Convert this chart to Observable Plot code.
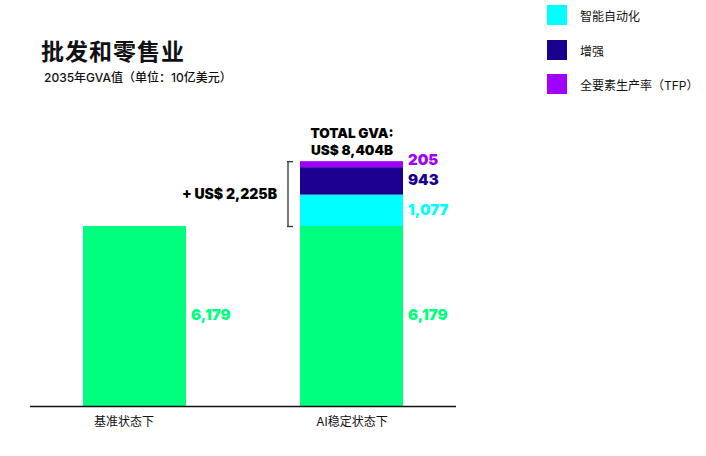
<!DOCTYPE html>
<html>
<head>
<meta charset="utf-8">
<script src="https://cdn.jsdelivr.net/npm/d3@7"></script>
<script src="https://cdn.jsdelivr.net/npm/@observablehq/plot@0.6"></script>
<style>
  html, body { margin: 0; padding: 0; background: #fff; }
  #wrap { position: relative; width: 706px; height: 456px; overflow: hidden;
          font-family: Inter, "Noto Sans CJK SC", sans-serif; color: #111; }
  #chart { position: absolute; left: 0; top: 0; }
  .title { position: absolute; left: 41px; top: 33px; font-size: 23px; font-weight: 700; letter-spacing: 1px; }
  .subtitle { position: absolute; left: 44px; top: 68px; font-size: 12px; font-weight: 500; }
  .legend { position: absolute; left: 547px; top: 0; }
  .legend .item { position: absolute; left: 0; width: 170px; height: 20px; }
  .legend .sw { position: absolute; left: 0; top: 0; width: 20px; height: 20px; }
  .legend .lb { position: absolute; left: 33px; top: 2px; font-size: 12px; white-space: nowrap; }
</style>
</head>
<body>
<div id="wrap">
  <div id="chart"></div>
  <div class="title">批发和零售业</div>
  <div class="subtitle">2035年GVA值（单位：10亿美元）</div>
  <div class="legend" id="legend"></div>
</div>
<script>
// ---- data ----
const scenarios = ["基准状态下", "AI稳定状态下"];
const components = ["基准", "智能自动化", "增强", "全要素生产率（TFP）"];
const baselineValues = [6179, 6179];          // per scenario
const intelligentAutomation = [0, 1077];
const augmentation = [0, 943];
const tfp = [0, 205];
const legendItems = ["智能自动化", "增强", "全要素生产率（TFP）"];

// ---- styles ----
const colors = ["#00ff7f", "#00ffff", "#1b0090", "#a100ff"];

const series = [baselineValues, intelligentAutomation, augmentation, tfp];
const rows = [];
scenarios.forEach((s, i) => {
  components.forEach((c, j) => {
    if (series[j][i] > 0) rows.push({scenario: s, component: c, value: series[j][i]});
  });
});
const aiScenario = scenarios[1];
const aiRows = rows.filter(d => d.scenario === aiScenario);
const total = d3.sum(aiRows, d => d.value);
const base = aiRows[0].value;
const increment = total - base;
const fmt = d3.format(",");
const topComp = components[components.length - 1];

const H = 456, W = 706;
const mb = 50;
const pxPerUnit = 180 / 6179;
const yMax = 10000;
const mt = (H - mb) - yMax * pxPerUnit;

const heavy = "Inter, 'Noto Sans CJK SC', sans-serif";
const labelOpts = (dy) => ({
  x: "scenario", y: "value", z: "component",
  text: d => fmt(d.value), fill: "component",
  textAnchor: "start", dx: 56, dy,
  fontSize: 15, fontWeight: 900, fontFamily: heavy
});

const plot = Plot.plot({
  width: W,
  height: H,
  marginLeft: 30,
  marginRight: 250,
  marginTop: mt,
  marginBottom: mb,
  style: {fontFamily: "Inter, 'Noto Sans CJK SC', sans-serif", background: "transparent"},
  x: {domain: scenarios, paddingInner: 0.525, paddingOuter: 0.244, label: null},
  y: {domain: [0, yMax], axis: null},
  color: {domain: components, range: colors},
  marks: [
    Plot.barY(rows, {x: "scenario", y: "value", fill: "component", z: "component"}),
    Plot.text(rows, Plot.filter(d => d.component !== topComp, Plot.stackY(labelOpts(-1)))),
    Plot.text(rows, Plot.filter(d => d.component === topComp, Plot.stackY(labelOpts(-4)))),
    Plot.text([total], {
      x: () => aiScenario, y: d => d,
      text: d => `TOTAL GVA:\nUS$ ${fmt(d)}B`,
      lineAnchor: "bottom", dy: -7, lineHeight: 1.25,
      fontSize: 13.5, fontWeight: 900, fill: "#000", fontFamily: heavy
    }),
    Plot.ruleX([aiScenario], {x: d => d, y1: base, y2: total, dx: -64, stroke: "#333", strokeWidth: 1.3}),
    Plot.tickY([base, total], {x: () => aiScenario, y: d => d, dx: -13, insetRight: 97, stroke: "#333", strokeWidth: 1.3}),
    Plot.text([increment], {
      x: () => aiScenario, y: d => base + d / 2,
      text: d => `+ US$ ${fmt(d)}B`,
      textAnchor: "end", dx: -75,
      fontSize: 14, fontWeight: 900, fill: "#000", fontFamily: heavy
    }),
    Plot.ruleY([0], {stroke: "#111", strokeWidth: 1.5}),
    Plot.axisX({ticks: [scenarios[0]], dx: -11, tickSize: 0, tickPadding: 11, fontSize: 12, label: null, fill: "#111"}),
    Plot.axisX({ticks: [scenarios[1]], tickSize: 0, tickPadding: 11, fontSize: 12, label: null, fill: "#111"})
  ]
});
document.getElementById("chart").appendChild(plot);

// legend
const leg = document.getElementById("legend");
legendItems.forEach((name, i) => {
  const idx = components.indexOf(name);
  const item = document.createElement("div");
  item.className = "item";
  item.style.top = (5 + i * 34.5) + "px";
  item.innerHTML = `<div class="sw" style="background:${colors[idx]}"></div><div class="lb">${name}</div>`;
  leg.appendChild(item);
});
</script>
</body>
</html>
